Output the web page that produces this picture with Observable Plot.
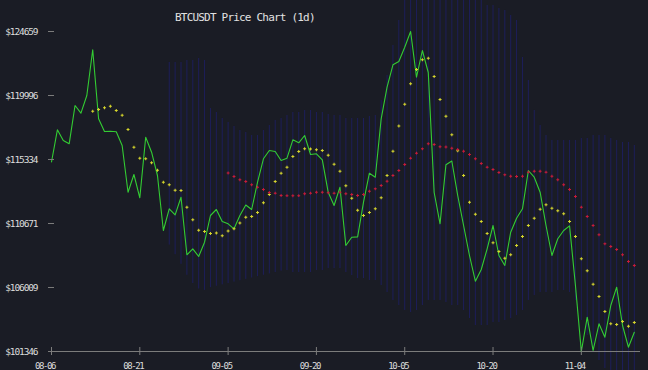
<!DOCTYPE html>
<html><head><meta charset="utf-8">
<script src="https://cdn.jsdelivr.net/npm/d3@7"></script>
<script src="https://cdn.jsdelivr.net/npm/@observablehq/plot@0.6"></script>
<style>
html,body{margin:0;padding:0;background:#1a1c25;}
#wrap{position:relative;width:648px;height:370px;overflow:hidden;background:#1a1c25;}
#title{position:absolute;left:175px;top:11px;line-height:13px;font-family:"DejaVu Sans Mono",monospace;font-size:11px;letter-spacing:-0.8px;color:#e2e2e2;white-space:nowrap;}
svg{font-family:"DejaVu Sans Mono",monospace;}
g[aria-label="y-axis tick label"] text{letter-spacing:-1.1px;}
g[aria-label="x-axis tick label"] text{letter-spacing:-1.4px;}
</style></head><body>
<div id="wrap"><div id="title"></div></div>
<script>
const titleText = "BTCUSDT Price Chart (1d)";
const startDate = "2025-08-06";
const closes = [115152,117498,116718,116478,119268,118707,119996,123326,118299,117374,
117396,117350,116354,112951,114241,112544,116958,115866,114168,110161,
111742,111305,112587,108391,108828,108267,109309,111254,111691,110817,
110649,110285,111254,112019,111691,113680,115385,115989,115917,115261,
115429,116769,116550,117082,115698,115749,115312,112951,111983,113316,
109068,109673,109700,112223,114336,114044,118299,120601,122233,122473,
123515,124659,121330,123275,121672,112930,110649,114948,115224,112711,
110525,108340,106468,107320,108828,110525,108340,107611,110037,111057,
111742,114532,114044,112951,110525,108340,109557,110161,110500,106154,
101346,103845,101419,103364,102388,104697,106030,103240,101659,102752];
const fastStart = 7;
const fastMA = [118853,118976,119100,119217,118904,118561,117519,116230,115429,115385,
115093,114554,113680,113491,113097,113080,111859,110941,110183,110088,
109943,109979,109782,110132,110285,110708,111123,111181,111473,112187,
112784,113731,114336,114773,115552,115917,116113,116100,116040,115989,
115647,114991,114481,113418,112514,111640,111254,111473,111742,112544,
114168,115938,117774,119363,120849,121891,122597,122714,121381,119705,
118488,117133,115968,114168,112223,111349,110817,109943,109265,108631,
108143,108391,109068,109724,110525,111057,111713,112034,111786,111596,
111378,110817,109724,108099,107225,106249,105353,104260,103364,103313,
103532,103189,103459];
const slowStart = 30;
const slowMA = [114350,114095,113855,113731,113491,113316,113148,112930,112879,112711,
112700,112690,112700,112835,112879,112951,112951,112908,112879,112951,
112835,112784,112711,112784,113024,113199,113440,113753,114168,114532,
114970,115429,115793,116113,116478,116427,116259,116245,116157,116062,
115938,115698,115385,115042,114773,114605,114387,114219,114117,114095,
114117,114409,114481,114481,114409,114117,113855,113491,113148,112638,
111859,111181,110525,109848,109192,108996,108777,108391,107903,107611];
const bandStart = 20;
const bandUpper = [122401,122401,122401,122546,122546,122692,122546,119049,118758,118321,
118029,117738,117447,117301,117082,117082,117447,117811,118175,118321,
118539,118758,118758,118904,118904,118758,118758,118612,118539,118539,
118321,118321,118321,118321,118466,118539,119632,121453,123639,125460,
127646,129103,129832,130196,130196,129832,129103,128374,127646,126917,
126917,126917,126917,126917,126553,126553,126335,126189,125825,125460,
122765,121089,118904,117811,117082,116718,116718,116718,116718,116718,
116864,116864,117082,117082,117082,116864,116718,116572,116572,116354];
const bandLower = [109100,108400,107700,106900,106300,105900,105800,106000,106100,106200,
106300,106400,106500,106600,106700,106800,106900,107000,107100,107200,
107247,107101,107101,107101,107101,107247,107247,107393,107393,107393,
107101,106883,106664,106664,106519,106519,106154,105644,105062,104697,
104333,104187,104333,104697,105062,105062,105062,104916,104697,104697,
104333,103750,103240,103240,103240,103459,103459,103604,103750,103969,
104333,105062,105426,105644,105644,105644,105790,105790,105644,105062,
103604,102512,101419,100690,100107,99962,99816,99598,99379,99233];
const yTicks = [101346,106009,110671,115334,119996,124659];
const xTickLabels = ["08-06","08-21","09-05","09-20","10-05","10-20","11-04"];

const DAY = 86400000;
const t0 = Date.parse(startDate + "T00:00:00Z");
const dateOf = i => new Date(t0 + i * DAY);
const priceRows = closes.map((v, i) => ({date: dateOf(i), v}));
const fastRows = fastMA.map((v, i) => ({date: dateOf(i + fastStart), v}));
const slowRows = slowMA.map((v, i) => ({date: dateOf(i + slowStart), v}));
const bandRows = bandUpper.map((u, i) => ({date: dateOf(i + bandStart), hi: u, lo: bandLower[i]}));
const xTicks = xTickLabels.map(s => new Date(Date.parse("2025-" + s + "T00:00:00Z")));
const labelOf = new Map(xTicks.map((d, i) => [+d, xTickLabels[i]]));

document.getElementById("title").textContent = titleText;

const chart = Plot.plot({
  width: 648, height: 370,
  marginLeft: 48, marginRight: 8, marginTop: 31, marginBottom: 19,
  style: {background: "#1a1c25", color: "#d8d8d8", fontFamily: "DejaVu Sans Mono, monospace"},
  x: {type: "utc", domain: [new Date(t0 - 0.51 * DAY), new Date(t0 + (closes.length - 1 + 1.05) * DAY)]},
  y: {domain: [yTicks[0], yTicks[yTicks.length - 1]]},
  marks: [
    Plot.ruleX(bandRows, {x: "date", y1: "lo", y2: "hi", stroke: "#1d1e5a", strokeWidth: 1}),
    Plot.ruleY([yTicks[0]], {stroke: "#7c7c7c"}),
    Plot.line(priceRows, {x: "date", y: "v", stroke: "#33cc33", strokeWidth: 1.1}),
    Plot.dot(fastRows, {x: "date", y: "v", symbol: "cross", r: 1.25, fill: "#d8d82c", stroke: "none"}),
    Plot.dot(slowRows, {x: "date", y: "v", symbol: "cross", r: 1.2, fill: "#cc1c38", stroke: "none"}),
    Plot.axisY({ticks: yTicks, tickSize: 6, dx: 6, tickPadding: 11, tickFormat: d => "$" + d,
      stroke: "#7c7c7c", fill: "#dcdcdc", fontSize: 9.5, label: null}),
    Plot.axisX({ticks: xTicks, tickSize: 8, dy: -4, tickFormat: () => "", stroke: "#7c7c7c", label: null}),
    Plot.axisX({ticks: xTicks, tickSize: 0, tickPadding: 11, dx: -6.5, tickFormat: d => labelOf.get(+d),
      fill: "#dcdcdc", fontSize: 9, label: null})
  ]
});
document.getElementById("wrap").appendChild(chart);
</script>
</body></html>
